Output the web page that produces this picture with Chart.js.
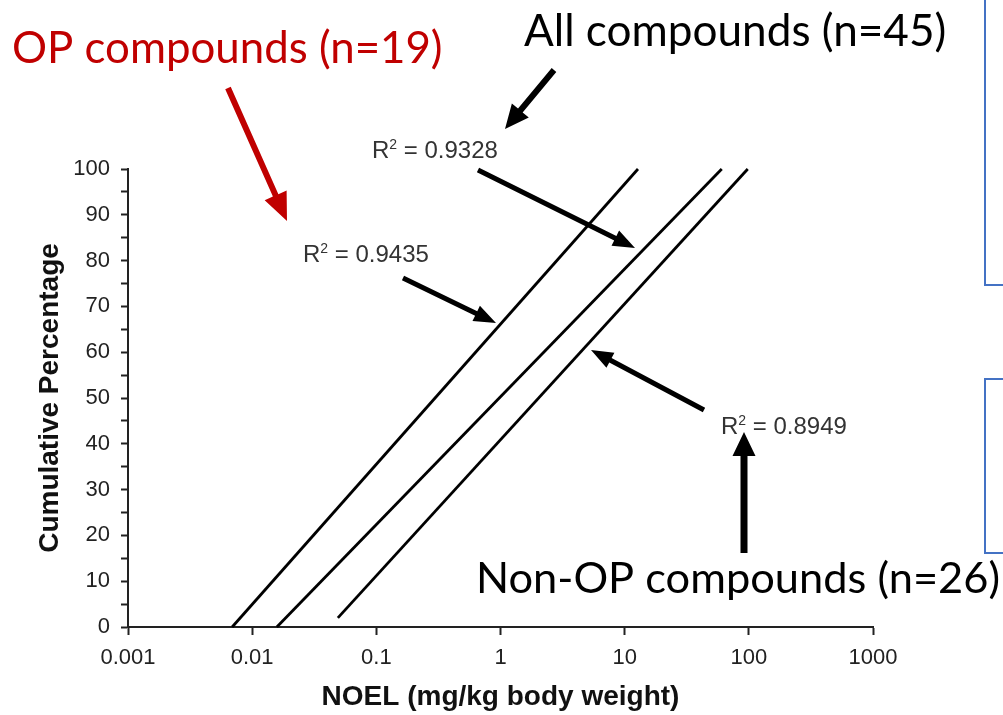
<!DOCTYPE html>
<html>
<head>
<meta charset="utf-8">
<script src="https://cdn.jsdelivr.net/npm/chart.js@4.4.1/dist/chart.umd.min.js"></script>
<style>
  html, body { margin: 0; padding: 0; background: #fff; }
  #wrap { position: relative; width: 1003px; height: 715px; }
</style>
</head>
<body>
<div id="wrap"><canvas id="graph"></canvas></div>
<script>
// === DONNÉES ===
const xTicks = [0.001, 0.01, 0.1, 1, 10, 100, 1000];
const xTickLabels = ["0.001", "0.01", "0.1", "1", "10", "100", "1000"];

// droites de régression (extrémités)
const opX = [0.0069, 12.8];
const opY = [0, 100];
const allX = [0.0158, 60.5];
const allY = [0, 100];
const nonOpX = [0.049, 98];
const nonOpY = [2, 100];

const r2Labels = ["0.9328", "0.9435", "0.8949"];

const toPoints = (xs, ys) => xs.map((x, i) => ({ x, y: ys[i] }));

// === ANNOTATIONS (flèches, textes, cadres) ===
function arrow(ctx, x1, y1, x2, y2, shaft, headLen, headW, color) {
  const a = Math.atan2(y2 - y1, x2 - x1);
  const len = Math.hypot(x2 - x1, y2 - y1);
  ctx.save();
  ctx.translate(x1, y1);
  ctx.rotate(a);
  ctx.fillStyle = color;
  ctx.beginPath();
  ctx.moveTo(0, -shaft / 2);
  ctx.lineTo(len - headLen, -shaft / 2);
  ctx.lineTo(len - headLen, -headW / 2);
  ctx.lineTo(len, 0);
  ctx.lineTo(len - headLen, headW / 2);
  ctx.lineTo(len - headLen, shaft / 2);
  ctx.lineTo(0, shaft / 2);
  ctx.closePath();
  ctx.fill();
  ctx.restore();
}

function fitText(ctx, text, x, y, width, color) {
  ctx.font = "100px Lato";
  const size = 100 * width / ctx.measureText(text).width;
  ctx.font = size.toFixed(1) + "px Lato";
  ctx.fillStyle = color;
  ctx.textAlign = "left";
  ctx.textBaseline = "alphabetic";
  ctx.fillText(text, x, y);
}

function r2Text(ctx, value, x, y) {
  ctx.fillStyle = "#333";
  ctx.textAlign = "left";
  ctx.textBaseline = "alphabetic";
  ctx.font = "24px 'Liberation Sans'";
  ctx.fillText("R", x, y);
  let w = ctx.measureText("R").width;
  ctx.font = "14px 'Liberation Sans'";
  ctx.fillText("2", x + w, y - 9);
  w += ctx.measureText("2").width;
  ctx.font = "24px 'Liberation Sans'";
  ctx.fillText(" = " + value, x + w, y);
}

const annotations = {
  id: "annotations",
  afterDraw(chart) {
    const ctx = chart.ctx;
    ctx.save();

    // cadres bleus à droite
    ctx.strokeStyle = "#4472C4";
    ctx.lineWidth = 2;
    ctx.beginPath();
    ctx.moveTo(985, -2);
    ctx.lineTo(985, 285);
    ctx.lineTo(1005, 285);
    ctx.moveTo(1005, 379);
    ctx.lineTo(985, 379);
    ctx.lineTo(985, 553);
    ctx.lineTo(1005, 553);
    ctx.stroke();

    // textes
    fitText(ctx, "OP compounds (n=19)", 12, 63, 431, "#C00000");
    fitText(ctx, "All compounds (n=45)", 524, 46, 422, "#000000");
    fitText(ctx, "Non-OP compounds (n=26)", 476, 593, 524, "#000000");

    r2Text(ctx, r2Labels[0], 372, 158);
    r2Text(ctx, r2Labels[1], 303, 262);
    r2Text(ctx, r2Labels[2], 721, 434);

    // flèches
    arrow(ctx, 228, 88, 287, 221, 6, 28, 24, "#C00000");
    arrow(ctx, 554, 70, 505, 129, 6, 24, 22, "#000");
    arrow(ctx, 478, 170, 635, 248, 5, 22, 17, "#000");
    arrow(ctx, 403, 278, 496, 323, 5, 22, 17, "#000");
    arrow(ctx, 704, 410, 591, 350, 5, 22, 17, "#000");
    arrow(ctx, 744, 553, 744, 432, 7, 24, 23, "#000");

    ctx.restore();
  }
};

// === GRAPHIQUE ===
const lineStyle = {
  borderColor: "#000",
  borderWidth: 2.8,
  pointRadius: 0,
  showLine: true,
  fill: false,
  clip: 6
};

new Chart(document.getElementById("graph"), {
  type: "scatter",
  data: {
    datasets: [
      { label: "OP compounds", data: toPoints(opX, opY), ...lineStyle },
      { label: "All compounds", data: toPoints(allX, allY), ...lineStyle },
      { label: "Non-OP compounds", data: toPoints(nonOpX, nonOpY), ...lineStyle }
    ]
  },
  options: {
    responsive: true,
    maintainAspectRatio: false,
    devicePixelRatio: 1,
    animation: false,
    layout: { padding: { left: 0, top: 169, right: 130, bottom: 0 } },
    plugins: { legend: { display: false }, tooltip: { enabled: false } },
    scales: {
      x: {
        type: "logarithmic",
        min: 0.001,
        max: 1000,
        afterBuildTicks: s => { s.ticks = xTicks.map(v => ({ value: v })); },
        afterFit: s => { s.height = 88; },
        ticks: {
          autoSkip: false,
          maxRotation: 0,
          padding: 10,
          color: "#222",
          font: { family: "'Liberation Sans'", size: 22 },
          callback: (v, i) => xTickLabels[i]
        },
        grid: { drawOnChartArea: false, drawTicks: true, tickLength: 8, tickWidth: 2, color: "#222" },
        border: { display: true, color: "#222", width: 2 },
        title: {
          display: true,
          text: "NOEL (mg/kg body weight)",
          color: "#111",
          font: { family: "'Liberation Sans'", size: 28, weight: "bold" },
          padding: { top: 0, bottom: 1 }
        }
      },
      y: {
        min: 0,
        max: 100,
        afterFit: s => { s.width = 128; },
        ticks: {
          stepSize: 5,
          autoSkip: false,
          padding: 11,
          color: "#222",
          font: { family: "'Liberation Sans'", size: 22 },
          callback: v => (v % 10 === 0 ? String(v) : "")
        },
        grid: { drawOnChartArea: false, drawTicks: true, tickLength: 7, tickWidth: 2, color: "#222" },
        border: { display: true, color: "#222", width: 2 },
        title: {
          display: true,
          text: "Cumulative Percentage",
          color: "#111",
          font: { family: "'Liberation Sans'", size: 28, weight: "bold" },
          padding: { top: 33, bottom: 0 }
        }
      }
    }
  },
  plugins: [annotations]
});
</script>
</body>
</html>
